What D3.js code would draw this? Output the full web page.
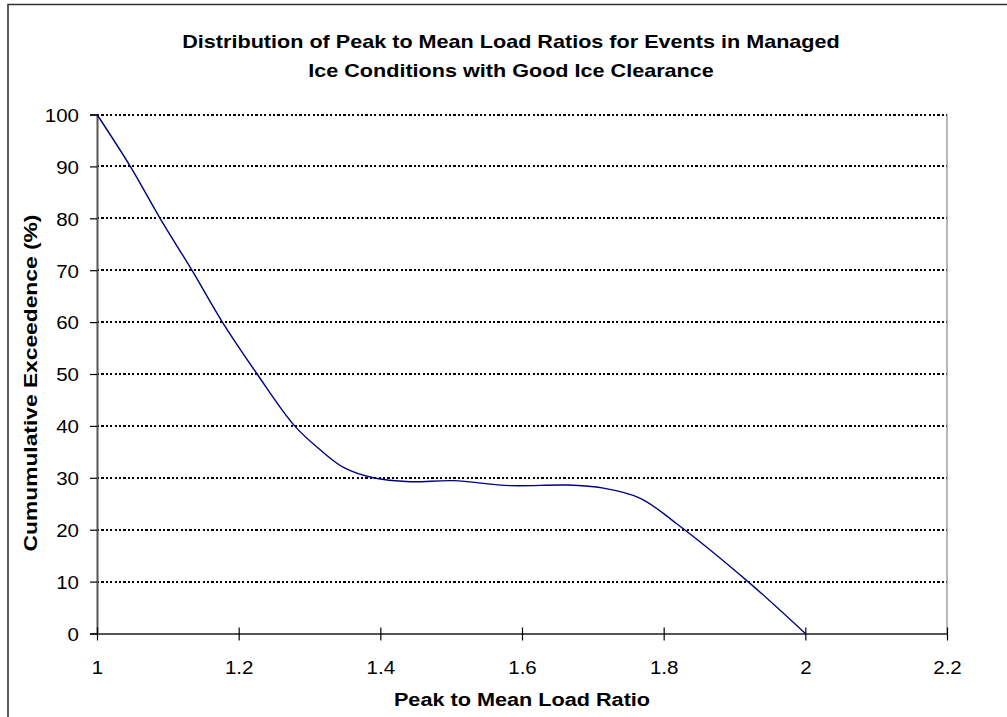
<!DOCTYPE html>
<html>
<head>
<meta charset="utf-8">
<script src="https://cdn.jsdelivr.net/npm/d3@7"></script>
<style>
  html, body { margin: 0; padding: 0; background: #fff; }
  svg { display: block; font-family: Arial, "Liberation Sans", sans-serif; }
</style>
</head>
<body>
<svg id="chart" width="1007" height="717"></svg>
<script>
// Peak-to-mean ratio (x) vs cumulative exceedence in percent (y)
const ratio = [1.000, 1.047, 1.089, 1.134, 1.177, 1.226, 1.279, 1.315, 1.348, 1.390,
               1.442, 1.503, 1.583, 1.664, 1.715, 1.767, 1.818, 1.919, 2.000];
const exceedence = [100, 90, 80, 70, 60, 50, 40, 35.4, 32.0, 30.0,
                    29.25, 29.45, 28.5, 28.6, 28.0, 26.05, 21.2, 10, 0];

const xTicks = [1, 1.2, 1.4, 1.6, 1.8, 2, 2.2];
const xTickLabels = ["1", "1.2", "1.4", "1.6", "1.8", "2", "2.2"];
const yTicks = [0, 10, 20, 30, 40, 50, 60, 70, 80, 90, 100];

const titleLines = ["Distribution of Peak to Mean Load Ratios for Events in Managed",
                    "Ice Conditions with Good Ice Clearance"];
const xTitle = "Peak to Mean Load Ratio";
const yTitle = "Cumumulative Exceedence (%)";

const svg = d3.select("#chart");
const plot = { left: 97, right: 947, top: 114.5, bottom: 633.5 };

const x = d3.scaleLinear().domain([1, 2.2]).range([plot.left, plot.right]);
const y = d3.scaleLinear().domain([0, 100]).range([plot.bottom, plot.top]);

// outer chart frame (right and bottom edges run past the page)
svg.append("path")
  .attr("d", "M8,720 L8,4.5 L1010,4.5")
  .attr("fill", "none").attr("stroke", "#333").attr("stroke-width", 1.6);

// horizontal dotted gridlines
svg.append("g").selectAll("line")
  .data(yTicks.filter(d => d > 0))
  .join("line")
  .attr("x1", plot.left).attr("x2", plot.right)
  .attr("y1", d => y(d)).attr("y2", d => y(d))
  .attr("stroke", "#000").attr("stroke-width", 2)
  .attr("stroke-dasharray", "2.2,2.2")
  .attr("shape-rendering", "crispEdges");

// right edge of plot area
svg.append("line")
  .attr("x1", plot.right).attr("x2", plot.right)
  .attr("y1", plot.top).attr("y2", plot.bottom)
  .attr("stroke", "#888").attr("stroke-width", 1.2);

// y axis
const yAxis = d3.axisLeft(y).tickValues(yTicks).tickSize(7).tickPadding(11)
  .tickFormat(d3.format("d"));
const gy = svg.append("g").attr("transform", `translate(${plot.left},0)`).call(yAxis);
gy.select(".domain").attr("stroke", "#555").attr("stroke-width", 2);
gy.selectAll(".tick line").attr("stroke", "#000").attr("stroke-width", 1.2);
gy.selectAll(".tick text")
  .attr("font-size", 19).attr("fill", "#000")
  .attr("x", 0).attr("dy", "0.36em")
  .attr("transform", "translate(-18,0) scale(1.08,1)");

// x axis with ticks crossing the line
const xAxis = d3.axisBottom(x).tickValues(xTicks).tickSize(0)
  .tickFormat((d, i) => xTickLabels[i]);
const gx = svg.append("g").attr("transform", `translate(0,${plot.bottom})`).call(xAxis);
gx.select(".domain").attr("stroke", "#555").attr("stroke-width", 2);
gx.selectAll(".tick").append("line")
  .attr("y1", -6).attr("y2", 7).attr("stroke", "#000").attr("stroke-width", 1.2);
gx.selectAll(".tick text")
  .attr("font-size", 19).attr("fill", "#000")
  .attr("y", 0).attr("dy", 0)
  .attr("transform", "translate(0,40.5) scale(1.08,1)");

// the exceedence curve
const pts = ratio.map((r, i) => [r, exceedence[i]]);
const line = d3.line()
  .x(d => x(d[0])).y(d => y(d[1]))
  .curve(d3.curveCatmullRom.alpha(0.5));
svg.append("path")
  .datum(pts)
  .attr("d", line)
  .attr("fill", "none").attr("stroke", "#000080").attr("stroke-width", 1.4);

// chart title
const cx = 511;
svg.append("g").selectAll("text")
  .data(titleLines)
  .join("text")
  .attr("transform", (d, i) => `translate(${cx},${47.5 + i * 29.5}) scale(1.2,1)`)
  .attr("text-anchor", "middle")
  .attr("font-size", 18).attr("font-weight", "bold")
  .text(d => d);

// axis titles
svg.append("text")
  .attr("transform", `translate(522,706) scale(1.14,1)`)
  .attr("text-anchor", "middle")
  .attr("font-size", 19).attr("font-weight", "bold")
  .text(xTitle);

svg.append("text")
  .attr("transform", `translate(37,383) rotate(-90) scale(1.2,1)`)
  .attr("text-anchor", "middle")
  .attr("font-size", 19).attr("font-weight", "bold")
  .text(yTitle);
</script>
</body>
</html>
